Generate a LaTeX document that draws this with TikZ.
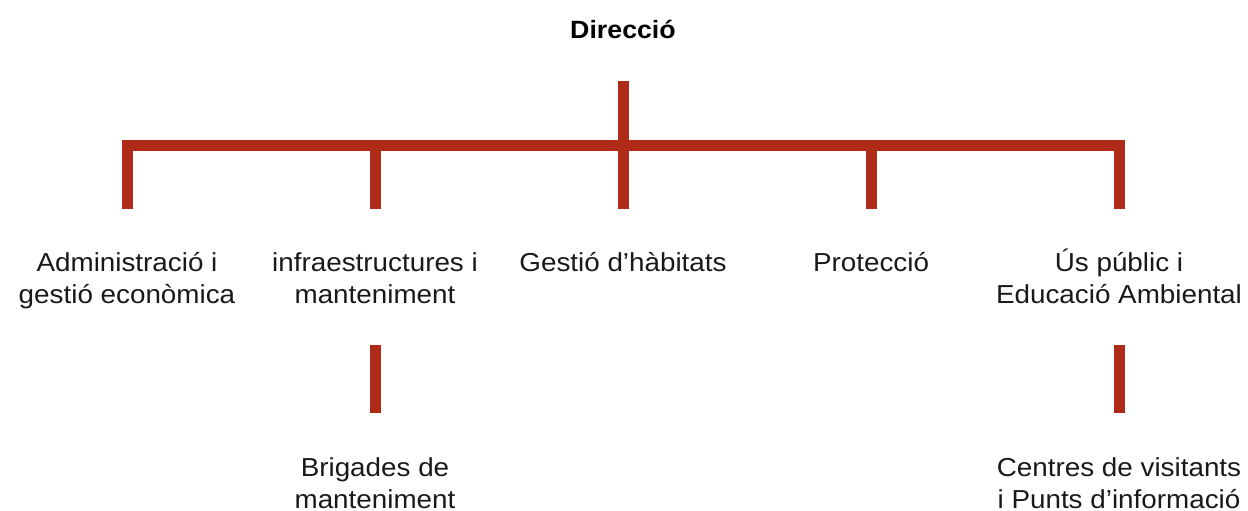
\documentclass[tikz,border=0pt]{standalone}
\usepackage{fontspec}
\setmainfont[FakeStretch=1.07]{Liberation Sans}
\definecolor{orgred}{RGB}{176,42,24}
\tikzset{
  org/.style={draw=orgred, line width=11pt, line cap=butt, line join=miter},
  lbl/.style={anchor=base, align=center, inner sep=0pt, font=\fontsize{26}{32}\selectfont, text=black!90},
  head/.style={anchor=base, inner sep=0pt, font=\bfseries\fontsize{25}{30}\selectfont, text=black}
}
\begin{document}
\begin{tikzpicture}[x=1pt,y=-1pt]
\useasboundingbox (0,0) rectangle (1248,511);
% texts (anchor=base sits on the last line's baseline)
\node[head] (dir) at (623,39) {Direcció};
\node[lbl] (adm) at (127,303) {Administració i\\gestió econòmica};
\node[lbl] (inf) at (375,303) {infraestructures i\\manteniment};
\node[lbl] (hab) at (623,271) {Gestió d’hàbitats};
\node[lbl] (pro) at (871,271) {Protecció};
\node[lbl] (us)  at (1119,303) {Ús públic i\\Educació Ambiental};
\node[lbl] (bri) at (375,508) {Brigades de\\manteniment};
\node[lbl] (cen) at (1119,508) {Centres de visitants\\i Punts d’informació};
% junction coordinates
\coordinate (top) at (623,81);
\foreach \i/\x in {1/127,2/375,3/623,4/871,5/1119}{
  \coordinate (b\i) at (\x,145);
  \coordinate (e\i) at (\x,209);
}
\coordinate (s2a) at (375,345);
\coordinate (s2b) at (375,413);
\coordinate (s5a) at (1119,345);
\coordinate (s5b) at (1119,413);
% connectors
\draw[org] (e1) -- (b1) -- (b5) -- (e5);
\draw[org] (top) -- (e3);
\draw[org] (b2) -- (e2);
\draw[org] (b4) -- (e4);
\draw[org] (s2a) -- (s2b);
\draw[org] (s5a) -- (s5b);
\end{tikzpicture}
\end{document}
